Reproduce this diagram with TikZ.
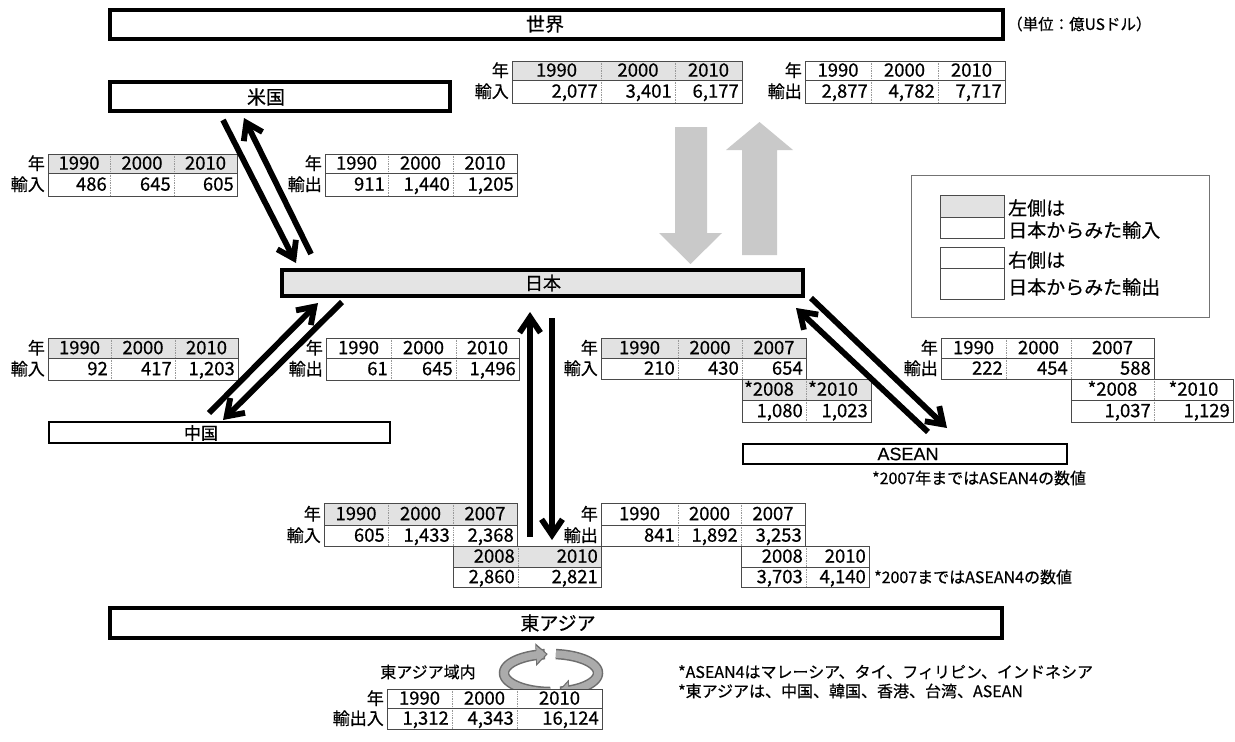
\documentclass[tikz,border=0pt]{standalone}
\usepackage{fontspec}
\setmainfont{Noto Sans CJK JP}[FakeBold=0.5]
\newfontfamily\latinsans{Liberation Sans}[FakeBold=0.4]
\usetikzlibrary{arrows.meta,calc}
\definecolor{hdr}{HTML}{E2E2E2}
\definecolor{jpfill}{HTML}{E4E4E4}
\definecolor{blockgray}{HTML}{C9C9C9}
\definecolor{ringgray}{HTML}{ABABAB}
\definecolor{ringdark}{HTML}{6E6E6E}
\definecolor{tbl}{HTML}{4A4A4A}

% header row, centred text
\newcommand\hrow[6]{%
  \fill[#5] (#3,#1) rectangle (#4,#2);
  \foreach \xa/\xb/\tx in {#6}{%
    \draw[tbdot] (\xb,#1) -- (\xb,#2);
    \node[tbt,anchor=base] (h\xa-#1) at ({(\xa+\xb)/2},{(#1+#2)/2+6.2}) {\tx};
  }%
  \draw[tbline] (#3,#1) rectangle (#4,#2);
}
% row, right aligned text
\newcommand\nrow[6]{%
  \fill[#5] (#3,#1) rectangle (#4,#2);
  \foreach \xa/\xb/\tx in {#6}{%
    \draw[tbdot] (\xb,#1) -- (\xb,#2);
    \node[tbt,anchor=base east] (n\xa-#1) at ({\xb-3},{(#1+#2)/2+6.2}) {\tx};
  }%
  \draw[tbline] (#3,#1) rectangle (#4,#2);
}
% row, left aligned text
\newcommand\lrow[6]{%
  \fill[#5] (#3,#1) rectangle (#4,#2);
  \foreach \xa/\xb/\tx in {#6}{%
    \draw[tbdot] (\xb,#1) -- (\xb,#2);
    \node[tbt,anchor=base west] (w\xa-#1) at ({\xa+2},{(#1+#2)/2+6.2}) {\tx};
  }%
  \draw[tbline] (#3,#1) rectangle (#4,#2);
}
\newcommand\rowlbl[4]{%
  \node[tbl lbl,anchor=base east] (l#1-#2) at (#1,{(#2+#3)/2+6.2}) {#4};
}
% solid black arrow from #1 to tip #2 (named coordinates), filled shapes
\newcommand\blkarrow[2]{%
  \coordinate (ae) at ($(#2)!7pt!(#1)$);
  \fill[black] ($(#1)!2.9pt!90:(ae)$) -- ($(ae)!2.9pt!-90:(#1)$)
     -- ($(ae)!2.9pt!90:(#1)$) -- ($(#1)!2.9pt!-90:(ae)$) -- cycle;
  \coordinate (ap1) at ($(#2)!23pt!34:(#1)$);
  \coordinate (ap5) at ($(#2)!23pt!-34:(#1)$);
  \fill[black] (#2) -- (ap1) -- ($(ap1)!5.8pt!90:(#2)$) -- ($(#2)!10.4pt!(#1)$)
     -- ($(ap5)!5.8pt!-90:(#2)$) -- (ap5) -- cycle;
}

\begin{document}
\begin{tikzpicture}[x=1pt,y=-1pt,
  bigbox/.style={draw=black,line width=3.6pt,fill=white,inner sep=0pt},
  midbox/.style={draw=black,line width=2.4pt,fill=white,inner sep=0pt},
  lbl/.style={inner sep=0pt,font=\fontsize{19}{22}\selectfont},
  tbt/.style={inner sep=0pt,font=\fontsize{18.5}{20}\selectfont},
  tbl lbl/.style={inner sep=0pt,font=\fontsize{17}{20}\selectfont},
  tbline/.style={draw=tbl,line width=0.9pt},
  tbdot/.style={draw=black!40,line width=0.7pt,densely dotted},
  note/.style={inner sep=0pt,anchor=west,font=\fontsize{16}{18}\selectfont},
  legtxt/.style={inner sep=0pt,anchor=west,font=\fontsize{19}{22}\selectfont},
  ringout/.style={line width=10.5pt,draw=ringdark,-{Triangle[length=12pt,width=22pt]}},
  ringin/.style={line width=7.5pt,draw=ringgray,-{Triangle[length=9.5pt,width=16.5pt]}},
]
\useasboundingbox (0,0) rectangle (1235,742);
\fill[white] (0,0) rectangle (1235,742);

% ---------- region boxes ----------
\node[bigbox,minimum width=893.5pt,minimum height=29.5pt] (world) at (556.5,24.5) {};
\node[lbl] (worldt) at (545,24) {世界};
\node[inner sep=0pt,anchor=west,font=\fontsize{15.5}{18}\selectfont] (unit) at (1007,24) {（単位：億USドル）};

\node[bigbox,minimum width=340.5pt,minimum height=29.5pt] (us) at (280,96.5) {};
\node[lbl] (ust) at (266,97) {米国};

\node[bigbox,fill=jpfill,minimum width=521.5pt,minimum height=26.5pt] (japan) at (542.5,283) {};
\node[lbl,font=\fontsize{18}{22}\selectfont] (japant) at (543,283) {日本};

\node[midbox,minimum width=340.6pt,minimum height=20.6pt] (china) at (219.5,432.5) {};
\node[lbl,font=\fontsize{17}{20}\selectfont] (chinat) at (201,433) {中国};

\node[midbox,minimum width=323.6pt,minimum height=19.6pt] (asean) at (905,454) {};
\node[lbl,font=\latinsans\fontsize{18}{20}\selectfont] (aseant) at (908,454) {ASEAN};
\node[note] (asnote) at (872,478) {*2007年まではASEAN4の数値};

\node[bigbox,minimum width=892.5pt,minimum height=30.5pt] (eastasia) at (556,623) {};
\node[lbl] (eastasiat) at (558,623) {東アジア};

% ---------- world tables ----------
\hrow{61}{80}{512}{742}{hdr}{512/601/1990, 601/675/2000, 675/742/2010}
\nrow{80}{103}{512}{742}{white}{512/601/{2,077}, 601/675/{3,401}, 675/742/{6,177}}
\rowlbl{509}{61}{80}{年}\rowlbl{509}{80}{103}{輸入}

\hrow{61}{80}{805}{1005}{white}{805/871/1990, 871/938/2000, 938/1005/2010}
\nrow{80}{103}{805}{1005}{white}{805/871/{2,877}, 871/938/{4,782}, 938/1005/{7,717}}
\rowlbl{802}{61}{80}{年}\rowlbl{802}{80}{103}{輸出}

% ---------- US tables ----------
\hrow{154}{173}{48}{237}{hdr}{48/110/1990, 110/174/2000, 174/237/2010}
\nrow{173}{196}{48}{237}{white}{48/110/486, 110/174/645, 174/237/605}
\rowlbl{45}{154}{173}{年}\rowlbl{45}{173}{196}{輸入}

\hrow{154}{173}{325}{517}{white}{325/388/1990, 388/453/2000, 453/517/2010}
\nrow{173}{196}{325}{517}{white}{325/388/911, 388/453/{1,440}, 453/517/{1,205}}
\rowlbl{322}{154}{173}{年}\rowlbl{322}{173}{196}{輸出}

% ---------- China tables ----------
\hrow{338}{358}{48}{238}{hdr}{48/111/1990, 111/175/2000, 175/238/2010}
\nrow{358}{380}{48}{238}{white}{48/111/92, 111/175/417, 175/238/{1,203}}
\rowlbl{45}{338}{358}{年}\rowlbl{45}{358}{380}{輸入}

\hrow{338}{358}{326}{519}{white}{326/391/1990, 391/456/2000, 456/519/2010}
\nrow{358}{380}{326}{519}{white}{326/391/61, 391/456/645, 456/519/{1,496}}
\rowlbl{323}{338}{358}{年}\rowlbl{323}{358}{380}{輸出}

% ---------- ASEAN tables ----------
\hrow{338}{358}{601}{806}{hdr}{601/678/1990, 678/742/2000, 742/806/2007}
\nrow{358}{379}{601}{806}{white}{601/678/210, 678/742/430, 742/806/654}
\rowlbl{598}{338}{358}{年}\rowlbl{598}{358}{379}{輸入}
\lrow{379}{400}{742}{871}{hdr}{742/806/*2008, 806/871/*2010}
\nrow{400}{422}{742}{871}{white}{742/806/{1,080}, 806/871/{1,023}}

\hrow{338}{358}{941}{1154}{white}{941/1006/1990, 1006/1071/2000, 1071/1154/2007}
\nrow{358}{379}{941}{1154}{white}{941/1006/222, 1006/1071/454, 1071/1154/588}
\rowlbl{938}{338}{358}{年}\rowlbl{938}{358}{379}{輸出}
\hrow{379}{400}{1071}{1233}{white}{1071/1154/*2008, 1154/1233/*2010}
\nrow{400}{422}{1071}{1233}{white}{1071/1154/{1,037}, 1154/1233/{1,129}}

% ---------- East Asia tables ----------
\hrow{503}{525}{324}{517}{hdr}{324/388/1990, 388/453/2000, 453/517/2007}
\nrow{525}{546}{324}{517}{white}{324/388/605, 388/453/{1,433}, 453/517/{2,368}}
\rowlbl{321}{503}{525}{年}\rowlbl{321}{525}{546}{輸入}
\nrow{546}{567}{453}{601}{hdr}{453/518/2008, 518/601/2010}
\nrow{567}{587}{453}{601}{white}{453/518/{2,860}, 518/601/{2,821}}

\hrow{503}{525}{601}{805}{white}{601/678/1990, 678/741/2000, 741/805/2007}
\nrow{525}{546}{601}{805}{white}{601/678/841, 678/741/{1,892}, 741/805/{3,253}}
\rowlbl{598}{503}{525}{年}\rowlbl{598}{525}{546}{輸出}
\nrow{546}{567}{741}{869}{white}{741/806/2008, 806/869/2010}
\nrow{567}{587}{741}{869}{white}{741/806/{3,703}, 806/869/{4,140}}
\node[note] (eanote) at (874,577) {*2007まではASEAN4の数値};

% ---------- intra East Asia ----------
\node[note,anchor=center] (intra) at (428,672) {東アジア域内};
\draw[ringout] plot[domain=91:266,samples=50] ({551+47*cos(\x)},{673+19*sin(\x)});
\draw[ringin]  plot[domain=91:264,samples=50] ({551+47*cos(\x)},{673+19*sin(\x)});
\draw[ringout] plot[domain=-84:82,samples=50] ({551+47*cos(\x)},{673+19*sin(\x)});
\draw[ringin]  plot[domain=-84:80,samples=50] ({551+47*cos(\x)},{673+19*sin(\x)});
\hrow{689}{708}{387}{602}{white}{387/452/1990, 452/517/2000, 517/602/2010}
\nrow{708}{729}{387}{602}{white}{387/452/{1,312}, 452/517/{4,343}, 517/602/{16,124}}
\rowlbl{384}{689}{708}{年}\rowlbl{384}{708}{729}{輸出入}

\node[note] (n1) at (678,672) {*ASEAN4はマレーシア、タイ、フィリピン、インドネシア};
\node[note] (n2) at (678,691) {*東アジアは、中国、韓国、香港、台湾、ASEAN};

% ---------- legend ----------
\node[draw=black!55,line width=1.3pt,minimum width=297.7pt,minimum height=141.7pt,inner sep=0pt] (legend) at (1060.5,246.5) {};
\fill[hdr] (940,195) rectangle (1004,217);
\draw[tbline] (940,195) rectangle (1004,238) (940,217) -- (1004,217);
\draw[tbline] (940,247) rectangle (1004,299) (940,268) -- (1004,268);
\node[legtxt] (lg1) at (1008,208) {左側は};
\node[legtxt] (lg2) at (1008,230) {日本からみた輸入};
\node[legtxt] (lg3) at (1008,260) {右側は};
\node[legtxt] (lg4) at (1008,287) {日本からみた輸出};

% ---------- world <-> Japan block arrows ----------
\fill[blockgray] (675,127) -- (707,127) -- (707,233) -- (722,233) -- (690.5,264) -- (659,233) -- (675,233) -- cycle;
\fill[blockgray] (742,255) -- (777,255) -- (777,150) -- (793,150) -- (759.5,122) -- (726,150) -- (742,150) -- cycle;

% ---------- black connectors ----------
\coordinate (usA1) at (223,120); \coordinate (usA2) at (296,263);
\coordinate (usB1) at (311,254); \coordinate (usB2) at (244,118);
\blkarrow{usA1}{usA2}
\blkarrow{usB1}{usB2}

\coordinate (chA1) at (209,413); \coordinate (chA2) at (318,303);
\coordinate (chB1) at (342,302); \coordinate (chB2) at (223,420);
\blkarrow{chA1}{chA2}
\blkarrow{chB1}{chB2}

\coordinate (eaA1) at (530,537); \coordinate (eaA2) at (530,312);
\coordinate (eaB1) at (552,318); \coordinate (eaB2) at (552,540);
\blkarrow{eaA1}{eaA2}
\blkarrow{eaB1}{eaB2}

\coordinate (asA1) at (928,432); \coordinate (asA2) at (796,308);
\coordinate (asB1) at (811,298); \coordinate (asB2) at (947,428);
\blkarrow{asA1}{asA2}
\blkarrow{asB1}{asB2}
\end{tikzpicture}
\end{document}
